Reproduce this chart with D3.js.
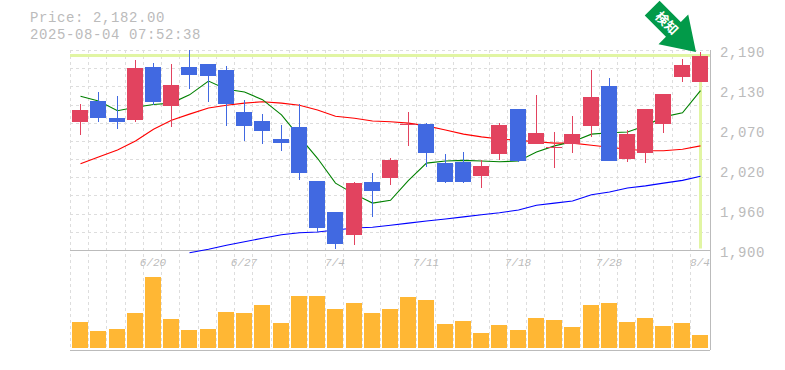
<!DOCTYPE html>
<html>
<head>
<meta charset="utf-8">
<script src="https://cdn.jsdelivr.net/npm/d3@7.9.0/dist/d3.min.js"></script>
<style>
  html, body { margin: 0; padding: 0; background: #fff; }
  svg { display: block; }
  text { font-family: "Liberation Mono", monospace; fill: #bbb; }
</style>
</head>
<body>
<svg id="chart" width="785" height="370"></svg>
<script>
const priceLabel = "Price: 2,182.00";
const stampLabel = "2025-08-04 07:52:38";
const lastPrice = 2182;
const markLabel = "検知";

const opens = [2086, 2116, 2091, 2088, 2165, 2109, 2165, 2170, 2161, 2100, 2087, 2061, 2078, 2000, 1955, 1922, 1999, 2004, 2081, 2083, 2026, 2028, 2007, 2039, 2104, 2054, 2048, 2054, 2080, 2138, 2032, 2041, 2083, 2151, 2144];
const highs = [2112, 2129, 2123, 2176, 2171, 2170, 2190, 2170, 2167, 2118, 2097, 2081, 2112, 2000, 1955, 1999, 2012, 2033, 2100, 2084, 2039, 2042, 2030, 2084, 2104, 2125, 2071, 2094, 2161, 2149, 2074, 2104, 2126, 2177, 2187];
const lows = [2067, 2086, 2075, 2086, 2110, 2078, 2133, 2115, 2080, 2058, 2054, 2044, 2001, 1926, 1901, 1907, 1948, 1994, 2051, 2020, 1997, 1997, 1990, 2030, 2028, 2054, 2019, 2041, 2064, 2029, 2028, 2026, 2070, 2144, 2144];
const closes = [2103, 2091, 2086, 2164, 2115, 2139, 2154, 2152, 2112, 2080, 2073, 2055, 2012, 1932, 1909, 1997, 1986, 2030, 2083, 2041, 1999, 1999, 2022, 2081, 2029, 2070, 2049, 2068, 2122, 2029, 2068, 2104, 2126, 2168, 2182];

const maShort = [2123, 2116, 2102, 2107, 2111, 2113, 2125, 2145, 2133, 2129, 2118, 2096, 2064, 2033, 1997, 1981, 1968, 1972, 2001, 2026, 2029, 2030, 2029, 2028, 2029, 2042, 2051, 2057, 2068, 2070, 2071, 2080, 2093, 2099, 2131];
const maMid = [2025, 2035, 2045, 2058, 2075, 2088, 2097, 2106, 2110, 2113, 2115, 2113, 2110, 2103, 2094, 2091, 2087, 2086, 2084, 2080, 2074, 2068, 2064, 2061, 2059, 2057, 2055, 2055, 2052, 2049, 2046, 2044, 2044, 2046, 2051];
const maLong = [null, null, null, null, null, null, 1896, 1901, 1907, 1912, 1917, 1922, 1925, 1926, 1929, 1932, 1933, 1936, 1939, 1942, 1945, 1948, 1951, 1954, 1958, 1965, 1968, 1971, 1980, 1984, 1990, 1993, 1997, 2001, 2007];

const volumes = [26, 17, 19, 35, 71, 29, 18, 19, 36, 35, 43, 25, 52, 52, 39, 45, 35, 39, 51, 48, 24, 27, 15, 23, 18, 30, 28, 21, 43, 45, 26, 30, 22, 25, 13];

const priceTicks = [2190, 2132, 2074, 2016, 1958, 1900];
const priceTickLabels = ["2,190", "2,130", "2,070", "2,020", "1,960", "1,900"];
const dateTicks = [4, 9, 14, 19, 24, 29, 34];
const dateLabels = ["6/20", "6/27", "7/4", "7/11", "7/18", "7/28", "8/4"];

const svg = d3.select("#chart");

const plotLeft = 70, plotRight = 710, plotTop = 50, mainBottom = 250, volBottom = 350;

const x = d3.scaleBand().domain(d3.range(opens.length)).range([71, 709]);
const y = d3.scaleLinear().domain([1900, 2190]).range([mainBottom, plotTop]);
const yVol = d3.scaleLinear().domain([0, 71]).range([348, 277]);
const xc = (i) => Math.round(x(i) + x.bandwidth() / 2);

// grid
const grid = svg.append("g")
  .attr("stroke", "#ddd")
  .attr("stroke-dasharray", "3,3")
  .attr("shape-rendering", "crispEdges");
grid.selectAll(".v")
  .data(d3.range(opens.length))
  .join("line")
  .attr("class", "v")
  .attr("x1", (i) => Math.round(x(i)) - 0.5)
  .attr("x2", (i) => Math.round(x(i)) - 0.5)
  .attr("y1", plotTop)
  .attr("y2", volBottom);
grid.selectAll(".h")
  .data(d3.range(12))
  .join("line")
  .attr("class", "h")
  .attr("x1", plotLeft)
  .attr("x2", plotRight)
  .attr("y1", (i) => Math.round(plotTop + (i * (mainBottom - plotTop)) / 11) + 0.5)
  .attr("y2", (i) => Math.round(plotTop + (i * (mainBottom - plotTop)) / 11) + 0.5);

// price highlight
svg.append("rect")
  .attr("x", plotLeft)
  .attr("width", plotRight - plotLeft)
  .attr("y", y(lastPrice) - 1.5)
  .attr("height", 3)
  .attr("fill", "#e1f5a3");
svg.append("rect")
  .attr("x", xc(34) - 1)
  .attr("width", 3)
  .attr("y", y(lastPrice) - 1.5)
  .attr("height", mainBottom - y(lastPrice))
  .attr("fill", "#e1f5a3");

// frame
const frame = svg.append("g").attr("stroke", "#bbb").attr("shape-rendering", "crispEdges");
frame.append("line").attr("x1", plotLeft).attr("x2", plotRight).attr("y1", mainBottom + 0.5).attr("y2", mainBottom + 0.5);
frame.append("line").attr("x1", plotLeft).attr("x2", plotRight).attr("y1", volBottom + 0.5).attr("y2", volBottom + 0.5);
frame.append("line").attr("x1", plotRight + 0.5).attr("x2", plotRight + 0.5).attr("y1", plotTop).attr("y2", volBottom);

// moving averages
function drawLine(values, color) {
  const line = d3.line()
    .defined((d) => d !== null)
    .x((d, i) => xc(i) + 0.5)
    .y((d) => y(d));
  svg.append("path")
    .attr("d", line(values))
    .attr("fill", "none")
    .attr("stroke", color)
    .attr("stroke-width", 1.1);
}
drawLine(maLong, "#0000ff");
drawLine(maMid, "#ff0000");
drawLine(maShort, "#008000");

// candles
const candles = svg.append("g").attr("shape-rendering", "crispEdges");
const candleColor = (i) => (closes[i] >= opens[i] ? "#e2435f" : "#4169e1");
candles.selectAll(".wick")
  .data(d3.range(opens.length))
  .join("line")
  .attr("class", "wick")
  .attr("x1", (i) => xc(i) + 0.5)
  .attr("x2", (i) => xc(i) + 0.5)
  .attr("y1", (i) => y(highs[i]))
  .attr("y2", (i) => y(lows[i]))
  .attr("stroke", candleColor);
candles.selectAll(".body")
  .data(d3.range(opens.length))
  .join("rect")
  .attr("class", "body")
  .attr("x", (i) => xc(i) - 8)
  .attr("width", 16)
  .attr("y", (i) => y(Math.max(opens[i], closes[i])))
  .attr("height", (i) => Math.max(1, Math.abs(y(opens[i]) - y(closes[i]))))
  .attr("fill", candleColor);

// volume
svg.append("g")
  .attr("shape-rendering", "crispEdges")
  .selectAll("rect")
  .data(volumes)
  .join("rect")
  .attr("x", (d, i) => xc(i) - 8)
  .attr("width", 16)
  .attr("y", (d) => yVol(d))
  .attr("height", (d) => yVol(0) - yVol(d))
  .attr("fill", "#ffb734");

// labels, 14px with some spacing so the two header lines do not collide
svg.append("text").attr("x", 30).attr("y", 22).attr("font-size", 14).attr("letter-spacing", 0.6).text(priceLabel);
svg.append("text").attr("x", 30).attr("y", 38.5).attr("font-size", 14).attr("letter-spacing", 0.6).text(stampLabel);

svg.selectAll(".price")
  .data(priceTicks)
  .join("text")
  .attr("class", "price")
  .attr("x", 720)
  .attr("y", (d) => y(d) + 7)
  .attr("font-size", 14)
  .attr("letter-spacing", 0.6)
  .text((d, i) => priceTickLabels[i]);

svg.selectAll(".date")
  .data(dateTicks)
  .join("text")
  .attr("class", "date")
  .attr("x", (d) => xc(d))
  .attr("y", 266)
  .attr("text-anchor", "middle")
  .attr("font-size", 11)
  .attr("font-style", "italic")
  .text((d, i) => dateLabels[i]);

// arrow mark
const arrow = svg.append("g").attr("transform", "translate(696,52) rotate(45)");
arrow.append("path")
  .attr("d", "M0,0 L-32,-21 L-32,-10.5 L-62,-10.5 L-62,10.5 L-32,10.5 L-32,21 Z")
  .attr("fill", "#029a49");
arrow.append("text")
  .attr("x", -41)
  .attr("y", 5)
  .attr("font-size", 13)
  .attr("font-weight", "bold")
  .attr("text-anchor", "middle")
  .attr("style", 'fill:#fff;font-family:"Noto Sans CJK JP"')
  .text(markLabel);
</script>
</body>
</html>
